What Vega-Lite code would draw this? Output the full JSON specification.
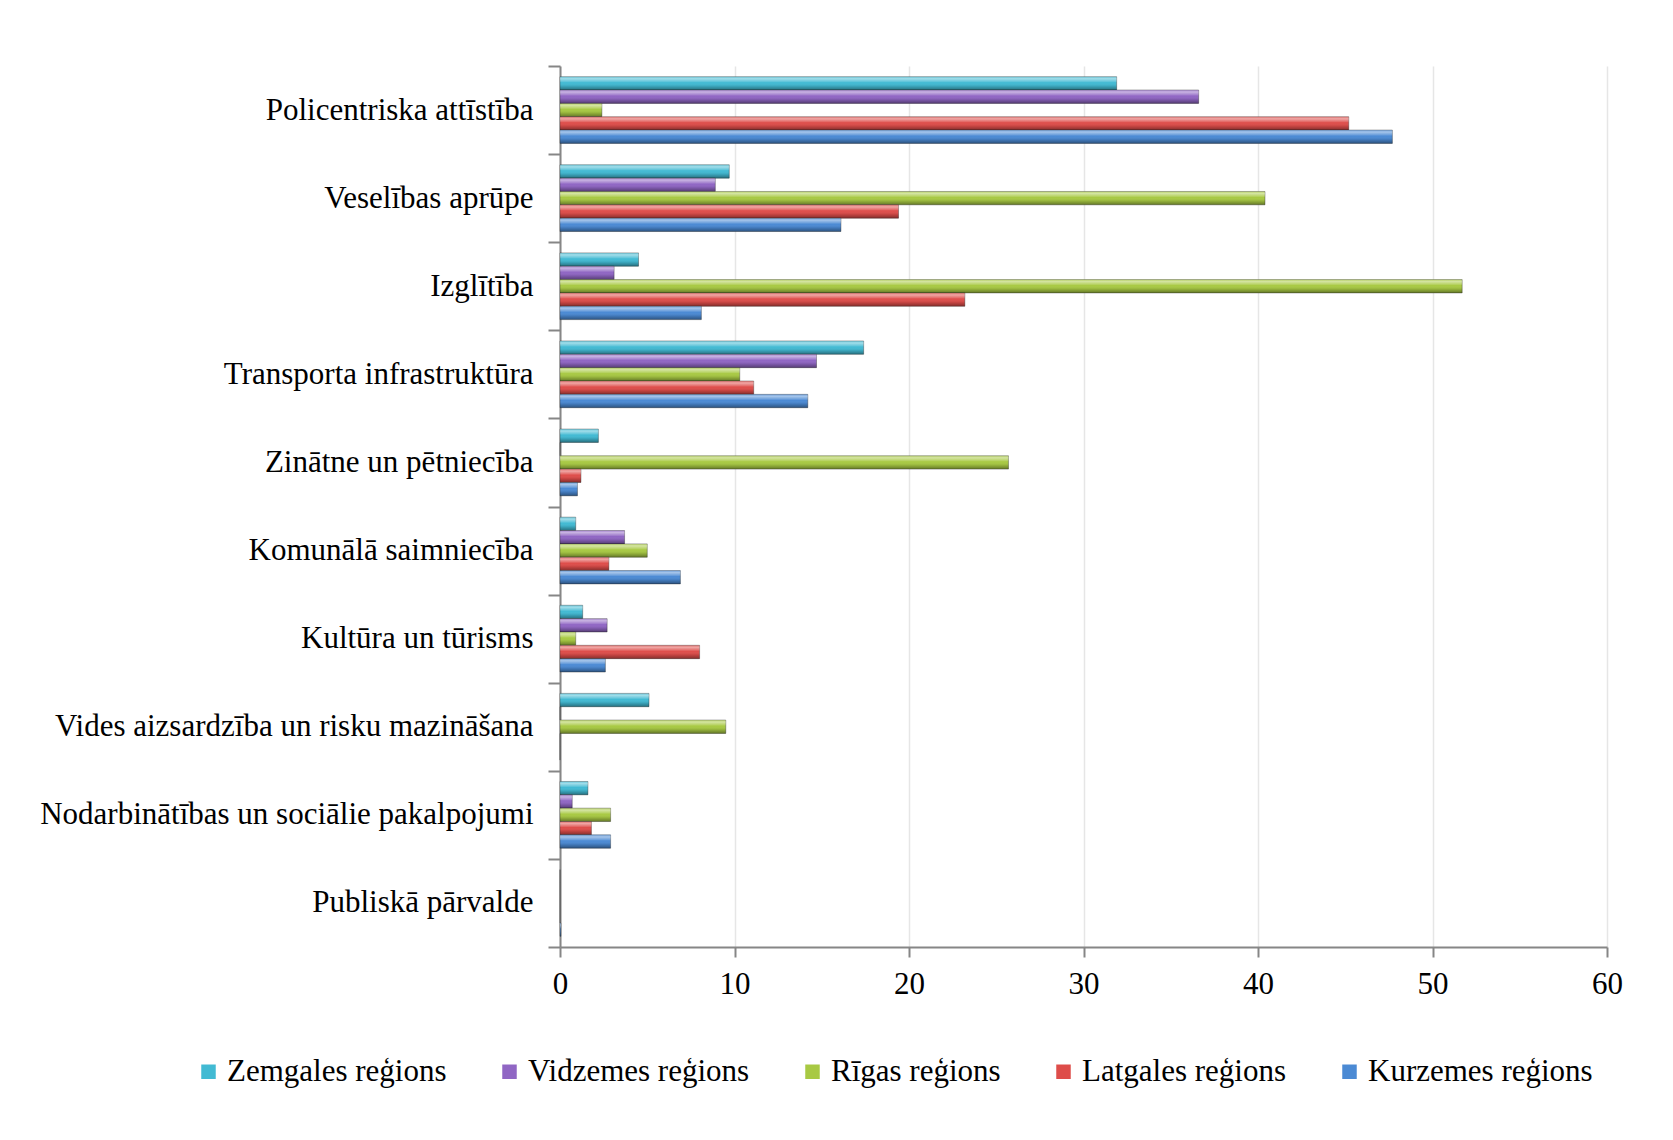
{
  "$schema": "https://vega.github.io/schema/vega-lite/v6.json",
  "width": 1047,
  "height": 881,
  "autosize": {"type": "none"},
  "padding": {"left": 560, "top": 66, "right": 66, "bottom": 193},
  "background": "white",
  "config": {
    "font": "Liberation Serif",
    "view": {"stroke": null},
    "axis": {"labelFont": "Liberation Serif", "labelColor": "black", "labelFontSize": 31, "domainColor": "#868686", "domainWidth": 2, "tickColor": "#868686", "tickWidth": 2},
    "legend": {"labelFont": "Liberation Serif", "labelFontSize": 31, "labelColor": "black", "labelLimit": 0}
  },
  "data": {"values": [
    {"category": "Policentriska attīstība", "region": "Zemgales reģions", "value": 31.9},
    {"category": "Policentriska attīstība", "region": "Vidzemes reģions", "value": 36.6},
    {"category": "Policentriska attīstība", "region": "Rīgas reģions", "value": 2.4},
    {"category": "Policentriska attīstība", "region": "Latgales reģions", "value": 45.2},
    {"category": "Policentriska attīstība", "region": "Kurzemes reģions", "value": 47.7},
    {"category": "Veselības aprūpe", "region": "Zemgales reģions", "value": 9.7},
    {"category": "Veselības aprūpe", "region": "Vidzemes reģions", "value": 8.9},
    {"category": "Veselības aprūpe", "region": "Rīgas reģions", "value": 40.4},
    {"category": "Veselības aprūpe", "region": "Latgales reģions", "value": 19.4},
    {"category": "Veselības aprūpe", "region": "Kurzemes reģions", "value": 16.1},
    {"category": "Izglītība", "region": "Zemgales reģions", "value": 4.5},
    {"category": "Izglītība", "region": "Vidzemes reģions", "value": 3.1},
    {"category": "Izglītība", "region": "Rīgas reģions", "value": 51.7},
    {"category": "Izglītība", "region": "Latgales reģions", "value": 23.2},
    {"category": "Izglītība", "region": "Kurzemes reģions", "value": 8.1},
    {"category": "Transporta infrastruktūra", "region": "Zemgales reģions", "value": 17.4},
    {"category": "Transporta infrastruktūra", "region": "Vidzemes reģions", "value": 14.7},
    {"category": "Transporta infrastruktūra", "region": "Rīgas reģions", "value": 10.3},
    {"category": "Transporta infrastruktūra", "region": "Latgales reģions", "value": 11.1},
    {"category": "Transporta infrastruktūra", "region": "Kurzemes reģions", "value": 14.2},
    {"category": "Zinātne un pētniecība", "region": "Zemgales reģions", "value": 2.2},
    {"category": "Zinātne un pētniecība", "region": "Vidzemes reģions", "value": 0},
    {"category": "Zinātne un pētniecība", "region": "Rīgas reģions", "value": 25.7},
    {"category": "Zinātne un pētniecība", "region": "Latgales reģions", "value": 1.2},
    {"category": "Zinātne un pētniecība", "region": "Kurzemes reģions", "value": 1.0},
    {"category": "Komunālā saimniecība", "region": "Zemgales reģions", "value": 0.9},
    {"category": "Komunālā saimniecība", "region": "Vidzemes reģions", "value": 3.7},
    {"category": "Komunālā saimniecība", "region": "Rīgas reģions", "value": 5.0},
    {"category": "Komunālā saimniecība", "region": "Latgales reģions", "value": 2.8},
    {"category": "Komunālā saimniecība", "region": "Kurzemes reģions", "value": 6.9},
    {"category": "Kultūra un tūrisms", "region": "Zemgales reģions", "value": 1.3},
    {"category": "Kultūra un tūrisms", "region": "Vidzemes reģions", "value": 2.7},
    {"category": "Kultūra un tūrisms", "region": "Rīgas reģions", "value": 0.9},
    {"category": "Kultūra un tūrisms", "region": "Latgales reģions", "value": 8.0},
    {"category": "Kultūra un tūrisms", "region": "Kurzemes reģions", "value": 2.6},
    {"category": "Vides aizsardzība un risku mazināšana", "region": "Zemgales reģions", "value": 5.1},
    {"category": "Vides aizsardzība un risku mazināšana", "region": "Vidzemes reģions", "value": 0},
    {"category": "Vides aizsardzība un risku mazināšana", "region": "Rīgas reģions", "value": 9.5},
    {"category": "Vides aizsardzība un risku mazināšana", "region": "Latgales reģions", "value": 0},
    {"category": "Vides aizsardzība un risku mazināšana", "region": "Kurzemes reģions", "value": 0},
    {"category": "Nodarbinātības un sociālie pakalpojumi", "region": "Zemgales reģions", "value": 1.6},
    {"category": "Nodarbinātības un sociālie pakalpojumi", "region": "Vidzemes reģions", "value": 0.7},
    {"category": "Nodarbinātības un sociālie pakalpojumi", "region": "Rīgas reģions", "value": 2.9},
    {"category": "Nodarbinātības un sociālie pakalpojumi", "region": "Latgales reģions", "value": 1.8},
    {"category": "Nodarbinātības un sociālie pakalpojumi", "region": "Kurzemes reģions", "value": 2.9},
    {"category": "Publiskā pārvalde ", "region": "Zemgales reģions", "value": 0},
    {"category": "Publiskā pārvalde ", "region": "Vidzemes reģions", "value": 0},
    {"category": "Publiskā pārvalde ", "region": "Rīgas reģions", "value": 0},
    {"category": "Publiskā pārvalde ", "region": "Latgales reģions", "value": 0},
    {"category": "Publiskā pārvalde ", "region": "Kurzemes reģions", "value": 0.05}
  ]},
  "encoding": {
    "y": {
      "field": "category", "type": "nominal", "sort": null, "title": null,
      "scale": {"paddingInner": 0, "paddingOuter": 0},
      "axis": {"tickBand": "extent", "tickSize": 12, "labelPadding": 15, "labelLimit": 0}
    },
    "yOffset": {
      "field": "region", "type": "nominal",
      "sort": ["Zemgales reģions", "Vidzemes reģions", "Rīgas reģions", "Latgales reģions", "Kurzemes reģions"],
      "scale": {"paddingInner": 0, "paddingOuter": 0.8}
    },
    "x": {
      "field": "value", "type": "quantitative", "title": null,
      "scale": {"domain": [0, 60], "nice": false},
      "axis": {"values": [0, 10, 20, 30, 40, 50, 60], "tickSize": 10, "labelPadding": 12, "labelFlush": false, "grid": true, "gridColor": "#E6E6E6", "gridWidth": 1.5}
    }
  },
  "layer": [
    {
      "mark": {"type": "bar", "strokeWidth": 1, "stroke": "#333333", "strokeOpacity": 0.4},
      "encoding": {
        "color": {
          "field": "region", "type": "nominal",
          "sort": ["Zemgales reģions", "Vidzemes reģions", "Rīgas reģions", "Latgales reģions", "Kurzemes reģions"],
          "scale": {
            "domain": ["Zemgales reģions", "Vidzemes reģions", "Rīgas reģions", "Latgales reģions", "Kurzemes reģions"],
            "range": ["#42BAD3", "#9066C4", "#A8C943", "#DE4D4A", "#4B8AD4"]
          },
          "legend": {
            "title": null, "orient": "none", "direction": "horizontal", "columns": 5,
            "legendX": -367, "legendY": 990,
            "symbolType": "square", "symbolSize": 210, "symbolStrokeWidth": 0,
            "columnPadding": 47, "labelOffset": 3
          }
        }
      }
    },
    {
      "mark": {
        "type": "bar",
        "fill": {
          "gradient": "linear", "x1": 0, "y1": 0, "x2": 0, "y2": 1,
          "stops": [
            {"offset": 0, "color": "rgba(255,255,255,0.2)"},
            {"offset": 0.15, "color": "rgba(255,255,255,0.5)"},
            {"offset": 0.35, "color": "rgba(255,255,255,0.2)"},
            {"offset": 0.45, "color": "rgba(255,255,255,0)"},
            {"offset": 0.7, "color": "rgba(0,0,0,0.1)"},
            {"offset": 1, "color": "rgba(0,0,0,0.4)"}
          ]
        }
      },
      "encoding": {}
    }
  ]
}
